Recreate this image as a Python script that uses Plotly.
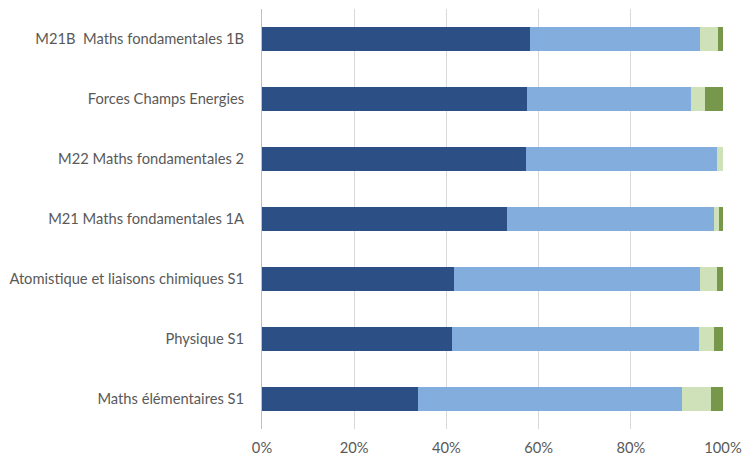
import plotly.graph_objects as go

categories = [
    "M21B  Maths fondamentales 1B",
    "Forces Champs Energies",
    "M22 Maths fondamentales 2",
    "M21 Maths fondamentales 1A",
    "Atomistique et liaisons chimiques S1",
    "Physique S1",
    "Maths élémentaires S1",
]
series1 = [58.2, 57.5, 57.3, 53.1, 41.7, 41.2, 33.9]
series2 = [36.8, 35.6, 41.5, 45.0, 53.3, 53.6, 57.2]
series3 = [4.0, 3.1, 1.2, 1.1, 3.8, 3.3, 6.3]
series4 = [1.0, 3.8, 0.0, 0.8, 1.2, 1.9, 2.6]
tick_vals = [0, 20, 40, 60, 80, 100]
tick_text = ["0%", "20%", "40%", "60%", "80%", "100%"]

colors = ["#2C4F86", "#83ADDD", "#CEE1B9", "#77984A"]
names = ["S1", "S2", "S3", "S4"]

fig = go.Figure()
for vals, col, nm in zip([series1, series2, series3, series4], colors, names):
    fig.add_trace(go.Bar(
        y=categories, x=vals, orientation="h", name=nm,
        marker=dict(color=col, line=dict(width=0)),
    ))

fig.update_layout(
    barmode="stack",
    bargap=0.6,
    showlegend=False,
    width=743, height=457,
    margin=dict(l=261.5, r=19.6, t=9, b=28, autoexpand=False),
    plot_bgcolor="white", paper_bgcolor="white",
    font=dict(family="Lato, Noto Sans, sans-serif", size=14.7, color="#595959"),
)
fig.update_xaxes(
    range=[0, 100], tickvals=tick_vals, ticktext=tick_text,
    showgrid=True, gridcolor="#D9D9D9", gridwidth=1,
    zeroline=False, showline=False, ticks="", ticklabelstandoff=8,
    automargin=False, fixedrange=True,
)
fig.update_yaxes(
    categoryorder="array", categoryarray=categories, autorange="reversed",
    showline=True, linecolor="#BFBFBF", linewidth=1,
    ticks="", ticklabelstandoff=14, showgrid=False, automargin=False,
    fixedrange=True,
)

fig.write_html(
    "out.html",
    config={"displayModeBar": False, "staticPlot": True},
    post_script="document.body.style.margin='0';document.body.style.overflow='hidden';",
)
